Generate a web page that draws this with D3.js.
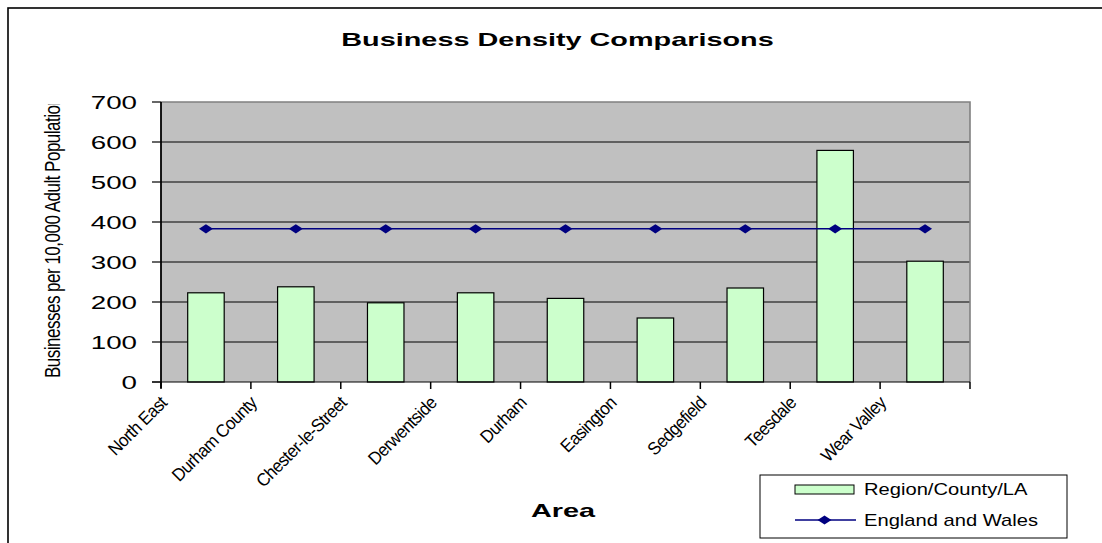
<!DOCTYPE html>
<html>
<head>
<meta charset="utf-8">
<script src="https://cdn.jsdelivr.net/npm/d3@7"></script>
<style>
  html, body { margin: 0; padding: 0; background: #ffffff; }
  svg { display: block; }
  text { font-family: Arial, "Liberation Sans", sans-serif; fill: #000; }
</style>
</head>
<body>
<script>
// Business density per 10,000 adult population
const categories = ["North East", "Durham County", "Chester-le-Street", "Derwentside", "Durham",
                    "Easington", "Sedgefield", "Teesdale", "Wear Valley"];
const regionValues = [223, 238, 198, 223, 209, 160, 235, 579, 302];
const englandWalesValues = [383, 383, 383, 383, 383, 383, 383, 383, 383];
const yTickValues = [0, 100, 200, 300, 400, 500, 600, 700];
const seriesNames = ["Region/County/LA", "England and Wales"];

const W = 1102, H = 543;
const plot = { left: 161, right: 970, top: 102, bottom: 382 };

const svg = d3.select("body").append("svg")
  .attr("width", W).attr("height", H);

// outer chart frame (top and left edges visible)
svg.append("rect")
  .attr("x", 8).attr("y", 8).attr("width", W + 20).attr("height", H + 20)
  .attr("fill", "#fff").attr("stroke", "#000").attr("stroke-width", 1.6);

const x = d3.scaleBand().domain(categories).range([plot.left, plot.right]);
const y = d3.scaleLinear().domain([0, 700]).range([plot.bottom, plot.top]);
const barW = 36.5;

// plot area
svg.append("rect")
  .attr("x", plot.left).attr("y", plot.top)
  .attr("width", plot.right - plot.left).attr("height", plot.bottom - plot.top)
  .attr("fill", "#c0c0c0");

// horizontal gridlines
svg.append("g").selectAll("line")
  .data(yTickValues.filter(v => v > 0 && v < 700))
  .join("line")
  .attr("x1", plot.left).attr("x2", plot.right)
  .attr("y1", d => y(d)).attr("y2", d => y(d))
  .attr("stroke", "#000").attr("stroke-width", 1);

// plot border
svg.append("path")
  .attr("d", `M${plot.left},${plot.top}H${plot.right}V${plot.bottom}`)
  .attr("fill", "none").attr("stroke", "#808080").attr("stroke-width", 1.6);

// bars
svg.append("g").selectAll("rect")
  .data(regionValues)
  .join("rect")
  .attr("x", (d, i) => x(categories[i]) + x.bandwidth() / 2 - barW / 2)
  .attr("y", d => y(d))
  .attr("width", barW)
  .attr("height", d => y(0) - y(d))
  .attr("fill", "#ccffcc").attr("stroke", "#000").attr("stroke-width", 1.2);

// y axis
const yAxis = svg.append("g");
yAxis.append("line")
  .attr("x1", plot.left).attr("x2", plot.left)
  .attr("y1", plot.top).attr("y2", plot.bottom + 6)
  .attr("stroke", "#000").attr("stroke-width", 1.8);
yAxis.selectAll("line.tick")
  .data(yTickValues)
  .join("line").attr("class", "tick")
  .attr("x1", plot.left - 9).attr("x2", plot.left)
  .attr("y1", d => y(d)).attr("y2", d => y(d))
  .attr("stroke", "#000").attr("stroke-width", 1.2);
yAxis.selectAll("g.lbl")
  .data(yTickValues)
  .join("g").attr("class", "lbl")
  .attr("transform", d => `translate(137,${y(d)}) scale(1.5,1)`)
  .append("text")
  .attr("text-anchor", "end").attr("dy", "0.36em")
  .style("font-size", "18.5px")
  .text(d => d);

// x axis
const xAxis = svg.append("g");
xAxis.append("line")
  .attr("x1", plot.left - 9).attr("x2", plot.right)
  .attr("y1", plot.bottom).attr("y2", plot.bottom)
  .attr("stroke", "#000").attr("stroke-width", 1.2);
const boundaries = categories.map(c => x(c)).concat([plot.right]);
xAxis.selectAll("line.tick")
  .data(boundaries)
  .join("line").attr("class", "tick")
  .attr("x1", d => d).attr("x2", d => d)
  .attr("y1", plot.bottom).attr("y2", plot.bottom + 7)
  .attr("stroke", "#000").attr("stroke-width", 1.5);
// condensed labels at 45 degrees, ending next to each category's left tick
xAxis.selectAll("g.lbl")
  .data(categories)
  .join("g").attr("class", "lbl")
  .attr("transform", d => `translate(${x(d) + 7},${plot.bottom + 22}) rotate(-45) scale(0.94,1)`)
  .append("text")
  .attr("text-anchor", "end")
  .style("font-size", "18px").style("letter-spacing", "-0.6px")
  .text(d => d);

// England and Wales line with diamond markers
const line = d3.line()
  .x((d, i) => x(categories[i]) + x.bandwidth() / 2)
  .y(d => y(d));
svg.append("path")
  .datum(englandWalesValues)
  .attr("d", line)
  .attr("fill", "none").attr("stroke", "#000080").attr("stroke-width", 1.5);
const diamond = "M0,-4.6L7,0L0,4.6L-7,0Z";
svg.append("g").selectAll("path")
  .data(englandWalesValues)
  .join("path")
  .attr("transform", (d, i) => `translate(${x(categories[i]) + x.bandwidth() / 2},${y(d)})`)
  .attr("d", diamond)
  .attr("fill", "#000080");

// titles
svg.append("g").attr("transform", "translate(557.5,46) scale(1.55,1)")
  .append("text").attr("text-anchor", "middle")
  .style("font-size", "18.6px").style("font-weight", "bold")
  .text("Business Density Comparisons");

svg.append("g").attr("transform", "translate(563,517) scale(1.55,1)")
  .append("text").attr("text-anchor", "middle")
  .style("font-size", "18.6px").style("font-weight", "bold")
  .text("Area");

svg.append("clipPath").attr("id", "ytitle-clip")
  .append("rect").attr("x", 0).attr("y", 104).attr("width", 150).attr("height", 400);
svg.append("g").attr("clip-path", "url(#ytitle-clip)")
  .append("g").attr("transform", "translate(60,378) scale(1.35,1) rotate(-90)")
  .append("text").attr("text-anchor", "start")
  .style("font-size", "17px").style("letter-spacing", "-0.5px")
  .text("Businesses per 10,000 Adult Population");

// legend
const lg = svg.append("g");
lg.append("rect")
  .attr("x", 760).attr("y", 475).attr("width", 307).attr("height", 63)
  .attr("fill", "#fff").attr("stroke", "#000").attr("stroke-width", 1);
lg.append("rect")
  .attr("x", 795).attr("y", 485).attr("width", 59).attr("height", 9)
  .attr("fill", "#ccffcc").attr("stroke", "#000").attr("stroke-width", 1);
lg.append("line")
  .attr("x1", 795).attr("x2", 856).attr("y1", 520).attr("y2", 520)
  .attr("stroke", "#000080").attr("stroke-width", 1.5);
lg.append("path")
  .attr("transform", "translate(824.5,520)")
  .attr("d", diamond).attr("fill", "#000080");
lg.selectAll("g.item")
  .data(seriesNames)
  .join("g").attr("class", "item")
  .attr("transform", (d, i) => `translate(864,${489 + i * 31}) scale(1.26,1)`)
  .append("text").attr("dy", "0.36em")
  .style("font-size", "16px")
  .text(d => d);
</script>
</body>
</html>
